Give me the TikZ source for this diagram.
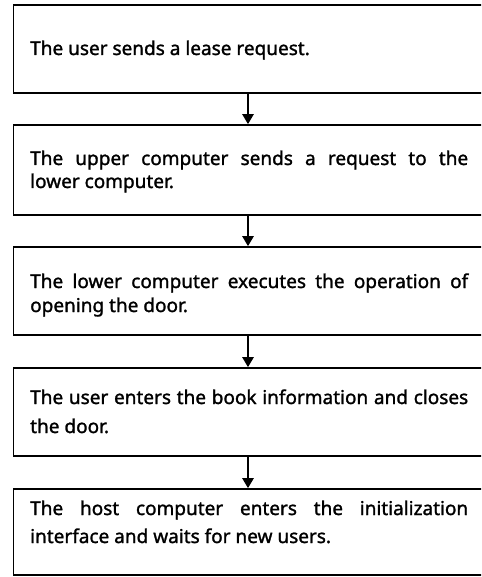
\documentclass[tikz,border=0pt]{standalone}
\usepackage{fontspec}
\setmainfont{Noto Sans}[FakeBold=1.4]
\usetikzlibrary{arrows.meta}
\tikzset{
  stepbox/.style={draw=black, line width=1.6pt, minimum width=520pt, inner sep=0pt, fill=white},
  txt/.style={anchor=base west, inner sep=0pt, text width=438pt, align=justify},
  flow/.style={line width=2.4pt, -{Triangle[length=10pt,width=11pt]}}
}
\begin{document}
\begin{tikzpicture}[x=1pt,y=-1pt]
\useasboundingbox (0,0) rectangle (481,577);
\clip (0,0) rectangle (481,577);
\coordinate (ax) at (248,0);
\node[stepbox, minimum height=88pt] (b1) at (273.5,49) {};
\node[stepbox, minimum height=90pt] (b2) at (273.5,170) {};
\node[stepbox, minimum height=88pt] (b3) at (273.5,291) {};
\node[stepbox, minimum height=88pt] (b4) at (273.5,412) {};
\node[stepbox, minimum height=86pt] (b5) at (273.5,532) {};
\node[txt, font=\fontsize{19}{23}\selectfont] (t1) at (30,55) {The user sends a lease request.};
\node[txt, font=\fontsize{19}{23}\selectfont] (t2) at (30,165) {The upper computer sends a request to the\linebreak lower computer.};
\node[txt, font=\fontsize{19}{24}\selectfont] (t3) at (30,288) {The lower computer executes the operation of\linebreak opening the door.};
\node[txt, font=\fontsize{19}{29}\selectfont] (t4) at (30,404) {The user enters the book information and closes\linebreak the door.};
\node[txt, font=\fontsize{19}{28}\selectfont] (t5) at (30,515) {The host computer enters the initialization\linebreak interface and waits for new users.};
\draw[flow] (b1.south -| ax) -- (b2.north -| ax);
\draw[flow] (b2.south -| ax) -- (b3.north -| ax);
\draw[flow] (b3.south -| ax) -- (b4.north -| ax);
\draw[flow] (b4.south -| ax) -- (b5.north -| ax);
\end{tikzpicture}
\end{document}
